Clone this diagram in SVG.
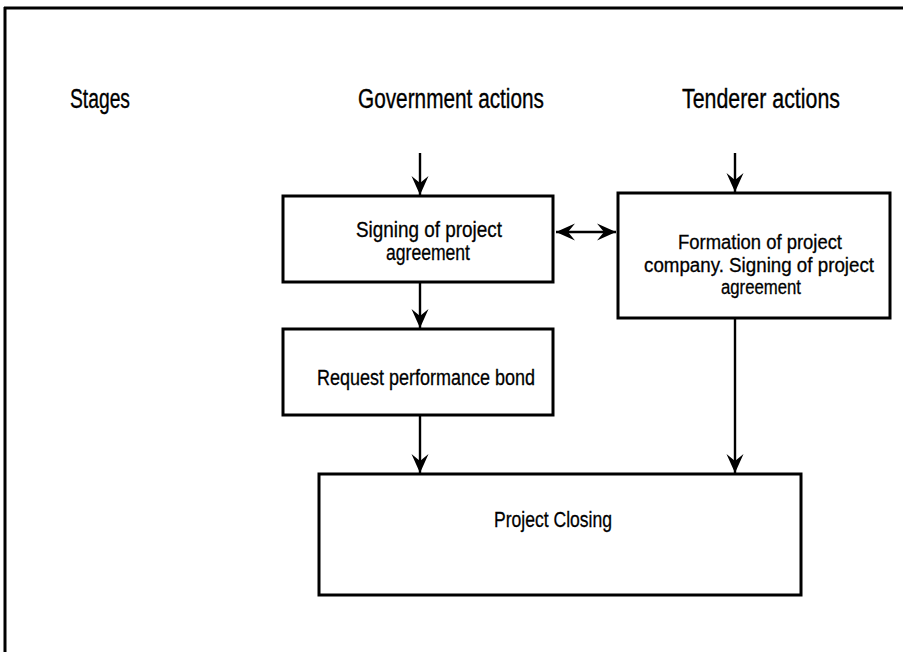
<svg xmlns="http://www.w3.org/2000/svg" width="903" height="652" viewBox="0 0 903 652">
  <defs>
    <style>
      .frame { stroke: #000; stroke-width: 3; fill: none; }
      .box { fill: #fff; stroke: #000; stroke-width: 3; }
      .link { stroke: #000; stroke-width: 2.4; fill: none; }
      .head { font-family: "Liberation Sans Narrow", "Liberation Sans", Arial, sans-serif; font-size: 27px; fill: #000; stroke: #000; stroke-width: 0.35; }
      .label { font-family: "Liberation Sans Narrow", "Liberation Sans", Arial, sans-serif; font-size: 22px; fill: #000; stroke: #000; stroke-width: 0.3; }
      .label.small { font-size: 20px; }
    </style>
    <marker id="arrow" viewBox="-21 -10 22 20" refX="0" refY="0" markerWidth="22" markerHeight="20" markerUnits="userSpaceOnUse" orient="auto-start-reverse">
      <path d="M0,0 L-19,-8.5 L-12,0 L-19,8.5 Z" fill="#000"/>
    </marker>
  </defs>

  <rect width="903" height="652" fill="#fff"/>

  <!-- page frame: top and left rules only -->
  <g id="frame">
    <line class="frame" x1="4" y1="8" x2="903" y2="8"/>
    <line class="frame" x1="5" y1="7" x2="5" y2="652"/>
  </g>

  <!-- column headings -->
  <g id="headings">
    <text class="head" x="70" y="108" textLength="60" lengthAdjust="spacingAndGlyphs">Stages</text>
    <text class="head" x="358" y="108" textLength="186" lengthAdjust="spacingAndGlyphs">Government actions</text>
    <text class="head" x="682" y="108" textLength="158" lengthAdjust="spacingAndGlyphs">Tenderer actions</text>
  </g>

  <!-- connectors -->
  <g id="connectors">
    <line class="link" x1="420" y1="153" x2="420" y2="195" marker-end="url(#arrow)"/>
    <line class="link" x1="735" y1="153" x2="735" y2="192" marker-end="url(#arrow)"/>
    <line class="link" x1="556" y1="232" x2="616" y2="232" marker-start="url(#arrow)" marker-end="url(#arrow)"/>
    <line class="link" x1="420" y1="283" x2="420" y2="328" marker-end="url(#arrow)"/>
    <line class="link" x1="420" y1="416" x2="420" y2="473" marker-end="url(#arrow)"/>
    <line class="link" x1="735" y1="319" x2="735" y2="473" marker-end="url(#arrow)"/>
  </g>

  <g id="signing">
    <rect class="box" x="283" y="196" width="270" height="86"/>
    <text class="label" x="356" y="237" textLength="146" lengthAdjust="spacingAndGlyphs">Signing of project</text>
    <text class="label" x="386" y="260" textLength="84" lengthAdjust="spacingAndGlyphs">agreement</text>
  </g>

  <g id="formation">
    <rect class="box" x="618" y="193" width="272" height="125"/>
    <text class="label small" x="678" y="249" textLength="164" lengthAdjust="spacingAndGlyphs">Formation of project</text>
    <text class="label small" x="644" y="271.5" textLength="230" lengthAdjust="spacingAndGlyphs">company. Signing of project</text>
    <text class="label small" x="721" y="294" textLength="80" lengthAdjust="spacingAndGlyphs">agreement</text>
  </g>

  <g id="bond">
    <rect class="box" x="283" y="329" width="270" height="86"/>
    <text class="label" x="317" y="385" textLength="218" lengthAdjust="spacingAndGlyphs">Request performance bond</text>
  </g>

  <g id="closing">
    <rect class="box" x="319" y="474" width="482" height="121"/>
    <text class="label" x="494" y="527" textLength="118" lengthAdjust="spacingAndGlyphs">Project Closing</text>
  </g>
</svg>
